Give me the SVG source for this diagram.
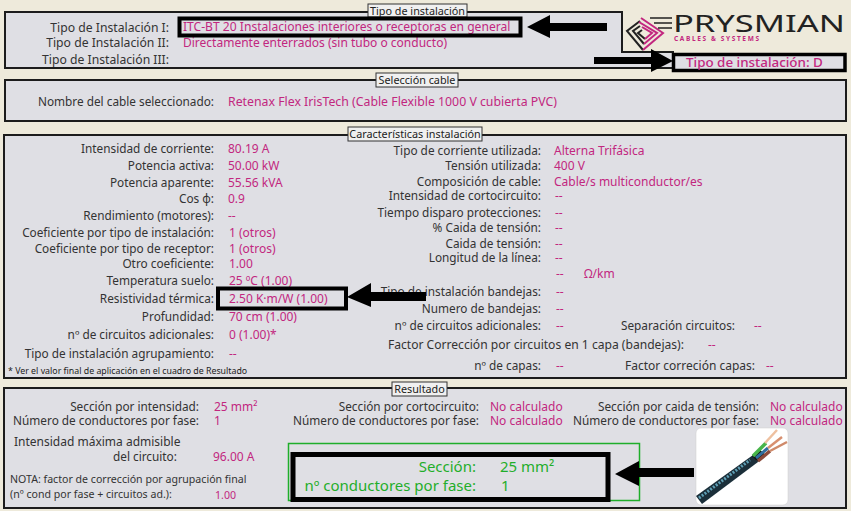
<svg xmlns="http://www.w3.org/2000/svg" width="851" height="511" viewBox="0 0 851 511">
<style>
text{font-family:"Noto Sans","Liberation Sans",sans-serif;font-size:11.8px;fill:#333}
.l{text-anchor:end}
.v{fill:#c2277f;font-size:12px}
.g{fill:#1fae2a;font-size:15px}
.p{fill:#dfdfe4;stroke:#1c1c1c;stroke-width:2}
.t{fill:#f0f0f0;stroke:#333;stroke-width:1}
.lg{font-size:10.8px;text-anchor:middle;fill:#222}
.h{fill:none;stroke:#000;stroke-width:4}
.a{fill:#000}
.n{font-size:10.600px}
</style>
<rect width="851" height="511" fill="#eeeadb"/>
<g id="panel-tipo">
<path class="p" d="M5 12H622V52H673V68H5Z"/>
<rect class="t" x="368" y="4" width="99" height="13"/>
<text class="lg" x="417.500" y="14.500">Tipo de instalación</text>
<text class="l" x="169" y="32" style="font-size:12.200px">Tipo de Instalación I:</text>
<text class="l" x="169" y="47" style="font-size:12.200px">Tipo de Instalación II:</text>
<text class="l" x="169" y="64" style="font-size:12.200px">Tipo de Instalación III:</text>
<text class="v" x="183" y="31" style="font-size:12.100px">ITC-BT 20 Instalaciones interiores o receptoras en general</text>
<text class="v" x="183" y="47">Directamente enterrados (sin tubo o conducto)</text>
</g>
<g id="logo">
<path d="M640 21L627 31L643 50M640 26L633 31L644 44M642 30L638 33L645 39" fill="none" stroke="#222" stroke-width="2"/>
<path d="M643 50L663 33L641 18M644 44L657 33L639 22M645 39L652 33L642 27" fill="none" stroke="#c2277f" stroke-width="2"/>
<path d="M650 18H672M654 23H672M658 28H672" stroke="#222" stroke-width="1.500"/>
<text x="673" y="32" textLength="172" lengthAdjust="spacingAndGlyphs" style="font-size:23px;fill:#222">PRYSMIAN</text>
<text x="674" y="41" textLength="85" lengthAdjust="spacing" style="font-size:6.500px;font-weight:700;fill:#c2277f">CABLES &amp; SYSTEMS</text>
</g>
<g id="tipo-result">
<rect x="673.500" y="54.500" width="171.500" height="16" fill="#dfdfe4" stroke="#000" stroke-width="3.500"/>
<text class="v" x="686" y="67" style="font-size:13.400px;font-weight:500">Tipo de instalación: D</text>
</g>
<g id="panel-seleccion">
<rect class="p" x="5" y="80" width="841" height="41"/>
<rect class="t" x="376" y="73" width="82" height="14"/>
<text class="lg" x="417" y="84">Selección cable</text>
<text class="l" x="214" y="106">Nombre del cable seleccionado:</text>
<text class="v" x="228" y="106" style="font-size:12.300px">Retenax Flex IrisTech (Cable Flexible 1000 V cubierta PVC)</text>
</g>
<g id="panel-caracteristicas">
<rect class="p" x="4" y="135" width="842" height="243"/>
<rect class="t" x="348" y="127" width="134" height="14"/>
<text class="lg" x="415" y="138">Características instalación</text>
<text class="l" x="214" y="153">Intensidad de corriente:</text>
<text class="l" x="214" y="170">Potencia activa:</text>
<text class="l" x="214" y="187">Potencia aparente:</text>
<text class="l" x="214" y="203">Cos φ:</text>
<text class="l" x="214" y="220">Rendimiento (motores):</text>
<text class="l" x="214" y="237">Coeficiente por tipo de instalación:</text>
<text class="l" x="214" y="253">Coeficiente por tipo de receptor:</text>
<text class="l" x="214" y="268">Otro coeficiente:</text>
<text class="l" x="214" y="285">Temperatura suelo:</text>
<text class="l" x="214" y="303">Resistividad térmica:</text>
<text class="l" x="214" y="321">Profundidad:</text>
<text class="l" x="214" y="339">nº de circuitos adicionales:</text>
<text class="l" x="214" y="358">Tipo de instalación agrupamiento:</text>
<text class="v" x="228" y="153">80.19 A</text>
<text class="v" x="228" y="170">50.00 kW</text>
<text class="v" x="228" y="187">55.56 kVA</text>
<text class="v" x="228" y="203">0.9</text>
<text class="v" x="228" y="220">--</text>
<text class="v" x="229" y="237">1 (otros)</text>
<text class="v" x="229" y="253">1 (otros)</text>
<text class="v" x="229" y="268">1.00</text>
<text class="v" x="229" y="285">25 ºC (1.00)</text>
<text class="v" x="229" y="303">2.50 K·m/W (1.00)</text>
<text class="v" x="229" y="321">70 cm (1.00)</text>
<text class="v" x="229" y="339">0 (1.00)*</text>
<text class="v" x="229" y="358">--</text>
<text x="8" y="374" style="font-size:8.800px;fill:#222">* Ver el valor final de aplicación en el cuadro de Resultado</text>
<text class="l" x="541" y="155">Tipo de corriente utilizada:</text>
<text class="l" x="541" y="170">Tensión utilizada:</text>
<text class="l" x="541" y="186">Composición de cable:</text>
<text class="l" x="541" y="200">Intensidad de cortocircuito:</text>
<text class="l" x="541" y="217">Tiempo disparo protecciones:</text>
<text class="l" x="541" y="232">% Caida de tensión:</text>
<text class="l" x="541" y="248">Caida de tensión:</text>
<text class="l" x="541" y="262">Longitud de la línea:</text>
<text class="l" x="541" y="296">Tipo de instalación bandejas:</text>
<text class="l" x="541" y="313">Numero de bandejas:</text>
<text class="l" x="541" y="330">nº de circuitos adicionales:</text>
<text class="l" x="541" y="370">nº de capas:</text>
<text class="v" x="554" y="155">Alterna Trifásica</text>
<text class="v" x="554" y="170">400 V</text>
<text class="v" x="554" y="186">Cable/s multiconductor/es</text>
<text class="v" x="555" y="200">--</text>
<text class="v" x="555" y="217">--</text>
<text class="v" x="555" y="232">--</text>
<text class="v" x="555" y="248">--</text>
<text class="v" x="555" y="262">--</text>
<text class="v" x="556" y="278">--</text>
<text class="v" x="584" y="278">Ω/km</text>
<text class="v" x="556" y="296">--</text>
<text class="v" x="556" y="313">--</text>
<text class="v" x="556" y="330">--</text>
<text class="v" x="556" y="370">--</text>
<text class="l" x="735" y="330">Separación circuitos:</text>
<text class="v" x="754" y="330">--</text>
<text class="l" x="684" y="349" style="font-size:12.100px">Factor Corrección por circuitos en 1 capa (bandejas):</text>
<text class="v" x="708" y="349">--</text>
<text class="l" x="755" y="370" style="font-size:12px">Factor correción capas:</text>
<text class="v" x="766" y="370">--</text>
</g>
<g id="panel-resultado">
<rect class="p" x="4" y="388" width="842" height="120"/>
<rect class="t" x="392" y="382" width="55" height="14"/>
<text class="lg" x="419.500" y="393">Resultado</text>
<text class="l" x="199" y="411">Sección por intensidad:</text>
<text class="l" x="199" y="425">Número de conductores por fase:</text>
<text class="v" x="214" y="411">25 mm²</text>
<text class="v" x="214" y="425">1</text>
<text x="14" y="446" style="font-size:12px">Intensidad máxima admisible</text>
<text x="113" y="461">del circuito:</text>
<text class="v" x="213" y="461">96.00 A</text>
<text class="n" x="10" y="483">NOTA: factor de corrección por agrupación final</text>
<text class="n" x="10" y="498">(nº cond por fase + circuitos ad.):</text>
<text class="v n" x="215" y="499">1.00</text>
<text class="l" x="479" y="411">Sección por cortocircuito:</text>
<text class="l" x="479" y="425">Número de conductores por fase:</text>
<text class="v" x="490" y="411">No calculado</text>
<text class="v" x="490" y="425">No calculado</text>
<text class="l" x="759" y="411">Sección por caida de tensión:</text>
<text class="l" x="759" y="425">Número de conductores por fase:</text>
<text class="v" x="770" y="411">No calculado</text>
<text class="v" x="770" y="425">No calculado</text>
</g>
<g id="seccion-box">
<rect x="288.500" y="443.500" width="351" height="57" fill="none" stroke="#1fae2a" stroke-width="1.500"/>
<rect x="293" y="454.500" width="315" height="45" fill="none" stroke="#000" stroke-width="5"/>
<text class="g l" x="476" y="472">Sección:</text>
<text class="g l" x="476" y="491">nº conductores por fase:</text>
<text class="g" x="500" y="472">25 mm²</text>
<text class="g" x="501" y="491">1</text>
</g>
<g id="cable">
<rect x="696" y="428" width="92" height="77" rx="5" fill="#fff" stroke="#ccc" stroke-width=".5"/>
<path d="M702 504L696 496L753 455L758 462Z" fill="#1b2f3a"/>
<path d="M699 498L750 460" stroke="#5f9fb5" stroke-width="3" stroke-dasharray="2 1.500"/>
<path d="M752 456L760 450L766 455L758 462Z" fill="#111"/>
<path d="M753 456L766 443" stroke="#47b54a" stroke-width="3.500"/>
<path d="M756 458L768 448" stroke="#2f6f9f" stroke-width="3"/>
<path d="M758 461L770 451" stroke="#8a4a3a" stroke-width="3.500"/>
<path d="M765 443L777 430" stroke="#eec0a0" stroke-width="2.500"/>
<path d="M768 448L782 437" stroke="#d89070" stroke-width="2.500"/>
<path d="M770 451L787 442" stroke="#cf8a6a" stroke-width="2.500"/>
</g>
<g id="connectors">
<rect class="h" x="179.500" y="18.500" width="341" height="17"/>
<path class="a" d="M607 23H550V15L527 27L550 38V31H607Z"/>
<path class="a" d="M594 57H651V49L673 61L651 72V64H594Z"/>
<rect class="h" x="218" y="288.500" width="128" height="20"/>
<path class="a" d="M426 292H371V283L347 297L371 307V301H426Z"/>
<path class="a" d="M694 468H639V461L615 474L639 486V477H694Z"/>
</g>
</svg>
